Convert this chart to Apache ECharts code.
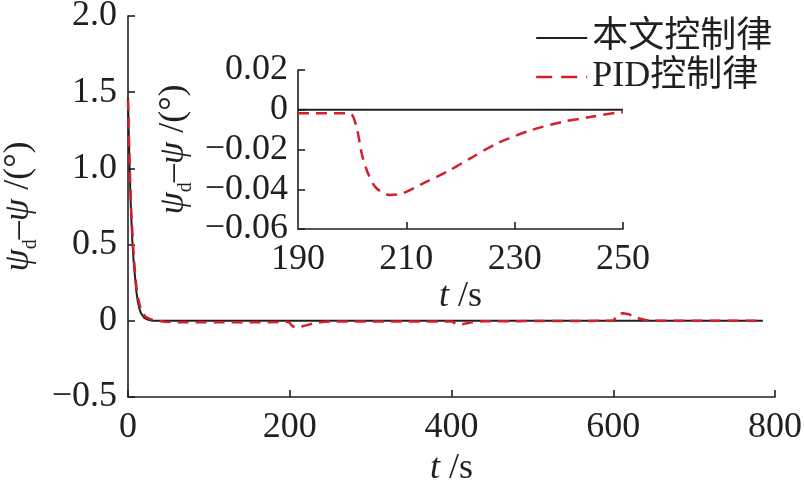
<!DOCTYPE html>
<html><head><meta charset="utf-8">
<script src="https://cdn.jsdelivr.net/npm/echarts@6/dist/echarts.min.js"></script>
<style>html,body{margin:0;padding:0;background:#fff}#c{width:804px;height:488px}</style>
</head><body><div id="c"></div>
<script>
// ---- main plot data ----
const mainXTicks = [0, 200, 400, 600, 800];
const mainYTicks = [-0.5, 0, 0.5, 1.0, 1.5, 2.0];
const blackT = [0, 1, 2, 3, 4, 5.5, 7, 8.5, 10.4, 12, 14, 16, 20, 25, 30, 35, 785];
const blackV = [1.46, 1.22, 1.0, 0.83, 0.68, 0.51, 0.39, 0.3, 0.19, 0.13, 0.08, 0.05, 0.02, 0.006, 0.001, 0, 0];
const redT = [0, 1, 2, 3, 4, 6, 8, 10, 12, 15, 18, 22, 28, 35, 45, 60, 100, 150, 199, 201, 203, 207, 212, 220, 230, 240, 250, 300, 350, 400, 404, 410, 416, 425, 440, 500, 560, 600, 603, 607, 612, 618, 625, 632, 640, 650, 700, 785];
const redV = [1.45, 1.24, 1.03, 0.87, 0.72, 0.52, 0.36, 0.24, 0.16, 0.09, 0.05, 0.025, 0.01, 0.002, -0.006, -0.009, -0.01, -0.01, -0.008, -0.02, -0.034, -0.043, -0.04, -0.03, -0.016, -0.008, -0.005, -0.004, -0.004, -0.004, -0.015, -0.025, -0.02, -0.01, -0.003, -0.002, -0.001, 0, 0.02, 0.045, 0.05, 0.045, 0.03, 0.015, 0.005, 0, 0, 0];
// ---- inset data ----
const insetXTicks = [190, 210, 230, 250];
const insetYTicks = [-0.06, -0.04, -0.02, 0, 0.02];
const insetBlackT = [190, 250];
const insetBlackV = [0, 0];
const insetRedT = [190, 195, 199.6, 200.8, 201.8, 203.0, 204.5, 207.0, 209.4, 213.1, 217.5, 221.8, 226.7, 232.8, 239.0, 243.9, 248.8, 250];
const insetRedV = [-0.0017, -0.0017, -0.0019, -0.0087, -0.0225, -0.0325, -0.0395, -0.0429, -0.0420, -0.0370, -0.0312, -0.0245, -0.0170, -0.0105, -0.0060, -0.0037, -0.0015, -0.0012];

const zip = (a, b) => a.map((t, i) => [t, b[i]]);
const names = ['本文控制律', 'PID控制律'];
const BLACK = '#231f20', RED = '#d41f2e';
const SERIF = "'Liberation Serif','Times New Roman','DejaVu Serif',serif";
const LEGF = "'Liberation Serif','Noto Sans CJK SC',serif";
const FS = 36;
const fmt = d => v => Math.abs(v) < 1e-9 ? '0' : (v < 0 ? '\u2212' : '') + Math.abs(v).toFixed(d);
const axisLine = { show: true, onZero: false, lineStyle: { color: BLACK, width: 1.6 } };
const tick = len => ({ show: true, inside: true, length: len, lineStyle: { color: BLACK, width: 1.6 } });
const rich = size => ({
  i: { fontFamily: SERIF, fontStyle: 'italic', fontSize: size, color: BLACK },
  n: { fontFamily: SERIF, fontSize: size, color: BLACK },
  sub: { fontFamily: SERIF, fontSize: Math.round(size * 0.55), color: BLACK, verticalAlign: 'bottom', padding: [0, 0, -4, 0] }
});
const yName = '{i|ψ}{sub|d}{n|\u2013}{i|ψ}{n| /(°)}';
const xName = '{i|t}{n| /s}';
const lab = extra => Object.assign({ fontFamily: SERIF, fontSize: FS, color: BLACK }, extra);

const chart = echarts.init(document.getElementById('c'), null, { renderer: 'canvas' });
chart.setOption({
  animation: false,
  backgroundColor: '#fff',
  grid: [
    { left: 128, right: 29, top: 16, bottom: 91, containLabel: false, outerBoundsMode: 'none' },
    { left: 298, right: 181, top: 70, bottom: 259, containLabel: false, outerBoundsMode: 'none' }
  ],
  legend: {
    data: [
      { name: names[0] },
      { name: names[1], lineStyle: { color: RED, width: 2.4, type: [16, 9] } }
    ],
    orient: 'vertical', left: 530, top: 15,
    itemWidth: 51, itemHeight: 14, itemGap: 3,
    itemStyle: { opacity: 0, borderWidth: 0 },
    textStyle: { fontFamily: LEGF, fontSize: FS, color: BLACK, lineHeight: 36 }
  },
  xAxis: [
    { type: 'value', gridIndex: 0, min: mainXTicks[0], max: mainXTicks[mainXTicks.length - 1], interval: 200,
      axisLine, axisTick: tick(7), splitLine: { show: false },
      axisLabel: lab({ margin: 13 }),
      name: xName, nameLocation: 'middle', nameGap: 51, nameTextStyle: { rich: rich(FS) } },
    { type: 'value', gridIndex: 1, min: insetXTicks[0], max: insetXTicks[insetXTicks.length - 1], interval: 20,
      axisLine, axisTick: Object.assign(tick(7), { customValues: insetXTicks.slice(1) }), splitLine: { show: false },
      axisLabel: lab({ margin: 13, customValues: insetXTicks }),
      name: xName, nameLocation: 'middle', nameGap: 44, nameTextStyle: { rich: rich(FS) } }
  ],
  yAxis: [
    { type: 'value', gridIndex: 0, min: mainYTicks[0], max: mainYTicks[mainYTicks.length - 1], interval: 0.5,
      axisLine, axisTick: tick(7), splitLine: { show: false },
      axisLabel: lab({ margin: 11, formatter: fmt(1) }),
      name: yName, nameLocation: 'middle', nameRotate: 90, nameGap: 87, nameTextStyle: { rich: rich(FS) } },
    { type: 'value', gridIndex: 1, min: insetYTicks[0], max: insetYTicks[insetYTicks.length - 1], interval: 0.02,
      axisLine, axisTick: tick(7), splitLine: { show: false },
      axisLabel: lab({ margin: 10, formatter: fmt(2) }),
      name: yName, nameLocation: 'middle', nameRotate: 90, nameGap: 106, nameTextStyle: { rich: rich(FS) } }
  ],
  series: [
    { name: names[0], type: 'line', xAxisIndex: 0, yAxisIndex: 0, data: zip(blackT, blackV), showSymbol: false, symbol: 'none',
      lineStyle: { color: BLACK, width: 2 }, itemStyle: { color: BLACK }, z: 3 },
    { name: names[1], type: 'line', xAxisIndex: 0, yAxisIndex: 0, data: zip(redT, redV), showSymbol: false, symbol: 'none',
      lineStyle: { color: RED, width: 2.5, type: [11, 7] }, itemStyle: { color: RED }, z: 4 },
    { name: names[0], type: 'line', xAxisIndex: 1, yAxisIndex: 1, data: zip(insetBlackT, insetBlackV), showSymbol: false, symbol: 'none',
      lineStyle: { color: BLACK, width: 2 }, itemStyle: { color: BLACK }, z: 3 },
    { name: names[1], type: 'line', xAxisIndex: 1, yAxisIndex: 1, data: zip(insetRedT, insetRedV), showSymbol: false, symbol: 'none',
      smooth: 0.3, lineStyle: { color: RED, width: 2.5, type: [11, 7] }, itemStyle: { color: RED }, z: 4 }
  ]
});
</script></body></html>
